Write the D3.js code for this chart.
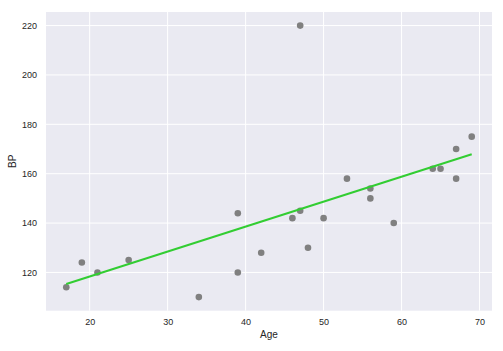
<!DOCTYPE html>
<html>
<head>
  <meta charset="utf-8">
  <script src="https://d3js.org/d3.v7.min.js"></script>
  <style>
    body { margin: 0; background: #fff; }
    text { font-family: "Liberation Sans", Arial, sans-serif; fill: #262626; }
    .grid line { stroke: #fff; stroke-width: 1; }
  </style>
</head>
<body>
  <svg width="503" height="351"></svg>
  <script>
    // patients: age vs blood pressure
    const age = [17, 19, 21, 25, 34, 39, 39, 42, 46, 47, 47, 48, 50, 53, 56, 56, 59, 64, 65, 67, 67, 69]
    const bp  = [114, 124, 120, 125, 110, 144, 120, 128, 142, 145, 220, 130, 142, 158, 154, 150, 140, 162, 162, 158, 170, 175]

    // fitted line at its two ends
    const fitAge = [17, 69]
    const fitBP  = [115.3, 167.9]

    const xTicks = [20, 30, 40, 50, 60, 70]
    const yTicks = [120, 140, 160, 180, 200, 220]

    const svg = d3.select("svg")
    const plotL = 46, plotR = 492, plotT = 12, plotB = 310.7

    const x = d3.scaleLinear().domain([14.4, 71.6]).range([plotL, plotR])
    const y = d3.scaleLinear().domain([104.5, 225.5]).range([plotB, plotT])

    svg.append("rect")
      .attr("x", plotL).attr("y", plotT)
      .attr("width", plotR - plotL).attr("height", plotB - plotT)
      .attr("fill", "#eaeaf2")

    // grid
    const grid = svg.append("g").attr("class", "grid")
    grid.selectAll(".gx").data(xTicks).enter().append("line")
      .attr("x1", d => x(d)).attr("x2", d => x(d))
      .attr("y1", plotT).attr("y2", plotB)
    grid.selectAll(".gy").data(yTicks).enter().append("line")
      .attr("x1", plotL).attr("x2", plotR)
      .attr("y1", d => y(d)).attr("y2", d => y(d))

    // axes (no domain line, no tick marks, just labels)
    svg.append("g")
      .attr("transform", `translate(0,${plotB})`)
      .call(d3.axisBottom(x).tickValues(xTicks).tickSize(0).tickPadding(8))
    svg.append("g")
      .attr("transform", `translate(${plotL},0)`)
      .call(d3.axisLeft(y).tickValues(yTicks).tickSize(0).tickPadding(9))
    svg.selectAll(".domain").remove()
    svg.selectAll(".tick text")
      .attr("font-size", 9)
      .attr("font-family", "Liberation Sans, Arial, sans-serif")
      .attr("fill", "#262626")

    // points
    svg.append("g").selectAll("circle")
      .data(age.map((a, i) => [a, bp[i]]))
      .enter().append("circle")
      .attr("cx", d => x(d[0]))
      .attr("cy", d => y(d[1]))
      .attr("r", 3.3)
      .attr("fill", "#808080")

    // regression line
    const line = d3.line().x(d => x(d[0])).y(d => y(d[1]))
    svg.append("path")
      .datum(fitAge.map((a, i) => [a, fitBP[i]]))
      .attr("d", line)
      .attr("fill", "none")
      .attr("stroke", "#32cd32")
      .attr("stroke-width", 2)

    // labels
    svg.append("text")
      .attr("x", (plotL + plotR) / 2).attr("y", 338)
      .attr("text-anchor", "middle")
      .attr("font-size", 10)
      .text("Age")
    svg.append("text")
      .attr("transform", `translate(16,${(plotT + plotB) / 2}) rotate(-90)`)
      .attr("text-anchor", "middle")
      .attr("font-size", 10)
      .text("BP")
  </script>
</body>
</html>
